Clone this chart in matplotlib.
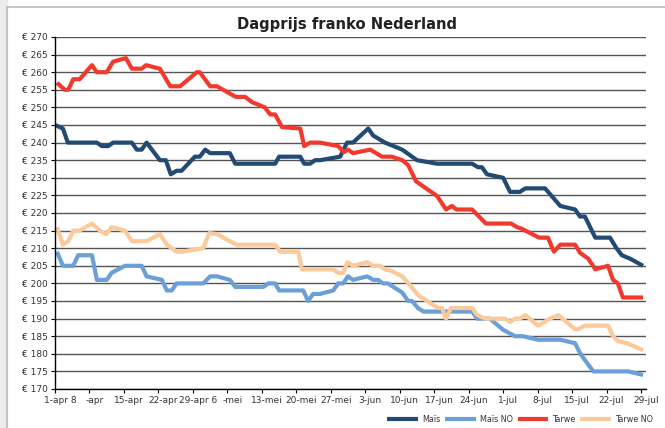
import matplotlib.pyplot as plt
from matplotlib.patches import Rectangle
from matplotlib.lines import Line2D

########################################################################################
'DATA (day 0 = 1-apr)'

mais_days = [0, 1.6, 2.6, 8.5, 9.5, 10.8, 11.8, 15.6, 16.6, 17.6, 18.6, 21.3, 22.5, 23.5, 24.7,
             25.7, 28.4, 29.4, 30.5, 31.5, 35.5, 36.6, 44.7, 45.5, 49.8, 50.6, 51.8, 52.8, 53.8, 57.9,
             59.3, 60.5, 63.6, 64.6, 67, 70.5, 73.5, 77.6, 84.7, 85.9, 86.7, 87.7, 91, 92.4, 94.4,
             95.5, 99.5, 102.6, 105.6, 106.6, 107.6, 109.7, 112.7, 114, 115.1, 116.8, 119.4]
mais = [245, 244, 240, 240, 239, 239, 240, 240, 238, 238, 240, 235, 235, 231, 232,
        232, 236, 236, 238, 237, 237, 234, 234, 236, 236, 234, 234, 235, 235, 236,
        240, 240, 244, 242, 240, 238, 235, 234, 234, 233, 233, 231, 230, 226, 226,
        227, 227, 222, 221, 219, 219, 213, 213, 210, 208, 207, 205]

mais_no_days = [0.4, 1.6, 3.7, 4.7, 7.5, 8.5, 10.5, 11.5, 14.2, 17.6, 18.6, 21.7, 22.7, 23.7, 24.7,
                30.1, 31.5, 32.9, 35.5, 36.6, 42.3, 43.3, 44.7, 45.5, 50.4, 51.4, 52.4, 53.8, 56.5, 57.5,
                58.5, 59.5, 60.5, 63.4, 64.6, 65.6, 66.6, 67.6, 70.5, 71.7, 72.5, 73.7, 74.8, 84.7, 85.7,
                88.3, 91, 93.4, 95, 98.1, 102.6, 105.6, 106.6, 107.6, 109.3, 116.4, 119.4]
mais_no = [209, 205, 205, 208, 208, 201, 201, 203, 205, 205, 202, 201, 198, 198, 200,
           200, 202, 202, 201, 199, 199, 200, 200, 198, 198, 195, 197, 197, 198, 200,
           200, 202, 201, 202, 201, 201, 200, 200, 197.4, 195, 195, 193, 192, 192, 190,
           190, 186.8, 185, 185, 184, 184, 183, 180.2, 178.2, 175, 175, 174]

tarwe_days = [0.4, 2, 2.7, 3.7, 5, 7.5, 8.5, 10.5, 11.8, 14.4, 15.6, 17.6, 18.5, 21.3, 23.4,
              25.4, 28.8, 29.4, 31.5, 32.9, 34.9, 36.7, 38.6, 40, 42.6, 43.7, 44.7, 46.1, 49.8, 50.6,
              51.8, 53.8, 57.5, 58.6, 59.5, 60.5, 64, 66.4, 68.4, 70.5, 71.7, 73.3, 77.6, 79.4, 80.6,
              81.5, 84.7, 87.5, 92.6, 93.8, 94.8, 98.3, 100.1, 101.3, 102.6, 105.6, 106.6, 108.3, 109.7, 112.3,
              113.3, 114.3, 115.3, 119.4]
tarwe = [257, 255, 255, 258, 258, 262, 260, 260, 263, 264, 261, 261, 262, 261, 256,
         256, 260, 260, 256, 256, 254.4, 253, 253, 251.5, 250, 248, 248, 244.4, 244, 239,
         240, 240, 239, 237.3, 238, 237, 238, 236, 236, 235, 233.6, 229, 224.8, 221, 222,
         221, 221, 217, 217, 216, 215.5, 213, 213, 209, 211, 211, 208.7, 207, 204, 205,
         201, 200, 196, 196]

tarwe_no_days = [0.4, 1.6, 2.7, 3.7, 5, 7.5, 9.1, 10.4, 11.5, 14.2, 15.6, 18.6, 21.3, 22.7, 24.7,
                 25.7, 30.1, 31.3, 32.9, 35.5, 36.9, 44.7, 45.7, 49.4, 50.1, 56.5, 57.5, 58.5, 59.4, 60.5,
                 63.4, 64.6, 66, 67, 68.4, 70.5, 72.1, 73.7, 76.2, 77.8, 78.6, 79.4, 80.4, 84.7, 85.7,
                 87.3, 91.4, 92.4, 93.4, 94.4, 95.5, 98.1, 100.5, 102.2, 105.6, 106.2, 107.6, 112.3, 113.3, 114.3,
                 116.2, 119.4]
tarwe_no = [216, 211, 212, 215, 215, 217, 215, 214, 216, 215, 212, 212, 214, 211, 209,
            209, 210, 214.3, 214, 212, 211, 211, 209, 209, 204, 204, 203, 203, 206, 205,
            206, 205, 205, 204, 203.5, 202, 199.5, 196.7, 194.4, 193, 193, 190, 193, 193, 191,
            190, 190, 189, 190, 190, 191, 188, 190, 191, 187, 187, 188, 188, 185, 183.6,
            183, 181]

tick_days = list(range(0, 120, 7))
tick_labels = ["1-apr 8", "-apr", "15-apr", "22-apr", "29-apr 6", "-mei", "13-mei", "20-mei", "27-mei",
               "3-jun", "10-jun", "17-jun", "24-jun", "1-jul", "8-jul", "15-jul", "22-jul", "29-jul"]

########################################################################################
'PLOT'

fig = plt.figure(figsize=(6.65, 4.28), dpi=100)

# light frame around the chart area
fig.patches.append(Rectangle((0, 0), 7/665, 1, transform=fig.transFigure, color='#ececec', zorder=0))
fig.add_artist(Line2D([7/665, 7/665], [0, 1-7/428], color='#bdbdbd', lw=1.2))
fig.add_artist(Line2D([7/665, 1], [1-7/428, 1-7/428], color='#bdbdbd', lw=1.2))

ax = fig.add_axes([55/665, 1-389/428, 591/665, 352/428])

kw = dict(lw=3.0, solid_joinstyle='round', solid_capstyle='butt')
ax.plot(mais_days, mais, color='#234a73', label='Maïs', **kw)
ax.plot(mais_no_days, mais_no, color='#6a9fd8', label='Maïs NO', **kw)
ax.plot(tarwe_days, tarwe, color='#f03a2e', label='Tarwe', **kw)
ax.plot(tarwe_no_days, tarwe_no, color='#fcc99b', label='Tarwe NO', **kw)

ax.set_xlim(0, 120)
ax.set_ylim(170, 270)
yt = list(range(170, 271, 5))
ax.set_yticks(yt)
ax.set_yticklabels(['€ %d' % v for v in yt], fontsize=6.5, color='#333333')
ax.yaxis.grid(True, color='#555555', lw=1.0)
ax.set_axisbelow(True)

ax.set_xticks(tick_days)
ax.set_xticklabels([])
ax.set_xticks([d + 1 for d in tick_days], minor=True)
ax.set_xticklabels(tick_labels, minor=True, fontsize=6.5, color='#333333')
ax.tick_params(axis='x', which='major', length=3, width=0.8)
ax.tick_params(axis='x', which='minor', length=0, pad=5)
ax.tick_params(axis='y', length=3, width=0.8, pad=2)

for s in ['top', 'right']:
    ax.spines[s].set_visible(False)
for s in ['left', 'bottom']:
    ax.spines[s].set_linewidth(1.0)
    ax.spines[s].set_color('black')

fig.text(347/665, 1-24/428, 'Dagprijs franko Nederland', ha='center', va='center',
         fontsize=10.6, fontweight='bold', color='#222222')

ax.legend(loc='center right', bbox_to_anchor=(657/665, 9/428), bbox_transform=fig.transFigure,
          ncol=4, frameon=False, fontsize=5.8, handlelength=3.8, handletextpad=0.5,
          columnspacing=0.6, borderpad=0, labelcolor='#333333')

fig.savefig('out.png', dpi=100)
